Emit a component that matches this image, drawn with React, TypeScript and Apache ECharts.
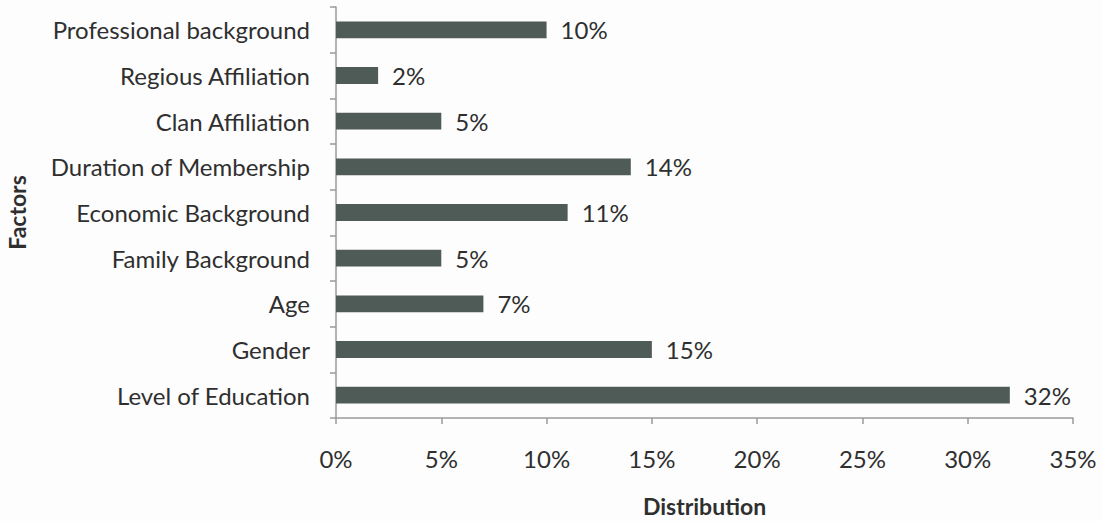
import React, { useEffect, useRef } from "react";
import * as echarts from "echarts";

const categories = [
  "Level of Education",
  "Gender",
  "Age",
  "Family Background",
  "Economic Background",
  "Duration of Membership",
  "Clan Affiliation",
  "Regious Affiliation",
  "Professional background",
];
const values = [32, 15, 7, 5, 11, 14, 5, 2, 10];
const xTicks = [0, 5, 10, 15, 20, 25, 30, 35];

const FONT = "Lato";
const TEXT = "#2f2f2f";
const AXIS = "#9a9a9a";

export default function App() {
  const ref = useRef<HTMLDivElement>(null);
  useEffect(() => {
    document.body.style.margin = "0";
    const chart = echarts.init(ref.current!, null, { renderer: "svg" });
    chart.setOption({
      animation: false,
      backgroundColor: "#fdfdfd",
      grid: {
        left: 336,
        right: 30,
        top: 7,
        bottom: 103,
        containLabel: false,
        outerBoundsMode: "none",
      },
      xAxis: {
        type: "value",
        min: xTicks[0],
        max: xTicks[xTicks.length - 1],
        interval: 5,
        name: "Distribution",
        nameLocation: "middle",
        nameGap: 76,
        nameMoveOverlap: false,
        nameTextStyle: { fontFamily: FONT, fontSize: 23, fontWeight: "bold", color: TEXT },
        axisLine: { show: true, lineStyle: { color: AXIS, width: 1.5 } },
        axisTick: { show: true, inside: false, length: 6, lineStyle: { color: AXIS, width: 1.5 } },
        axisLabel: { formatter: "{value}%", fontFamily: FONT, fontSize: 24, color: TEXT, margin: 28 },
        splitLine: { show: false },
      },
      yAxis: {
        type: "category",
        data: categories,
        name: "Factors",
        nameLocation: "middle",
        nameGap: 308,
        nameMoveOverlap: false,
        nameRotate: 90,
        nameTextStyle: { fontFamily: FONT, fontSize: 23, fontWeight: "bold", color: TEXT },
        axisLine: { show: true, lineStyle: { color: AXIS, width: 1.5 } },
        axisTick: { show: true, inside: false, length: 6, lineStyle: { color: AXIS, width: 1.5 } },
        axisLabel: { fontFamily: FONT, fontSize: 24, color: TEXT, margin: 26 },
      },
      series: [
        {
          type: "bar",
          data: values,
          barWidth: "37%",
          itemStyle: { color: "#4f5b57" },
          label: {
            show: true,
            position: "right",
            distance: 14,
            formatter: "{c}%",
            fontFamily: FONT,
            fontSize: 24,
            color: TEXT,
          },
        },
      ],
    });
    return () => chart.dispose();
  }, []);
  return <div ref={ref} style={{ width: 1103, height: 521 }} />;
}
